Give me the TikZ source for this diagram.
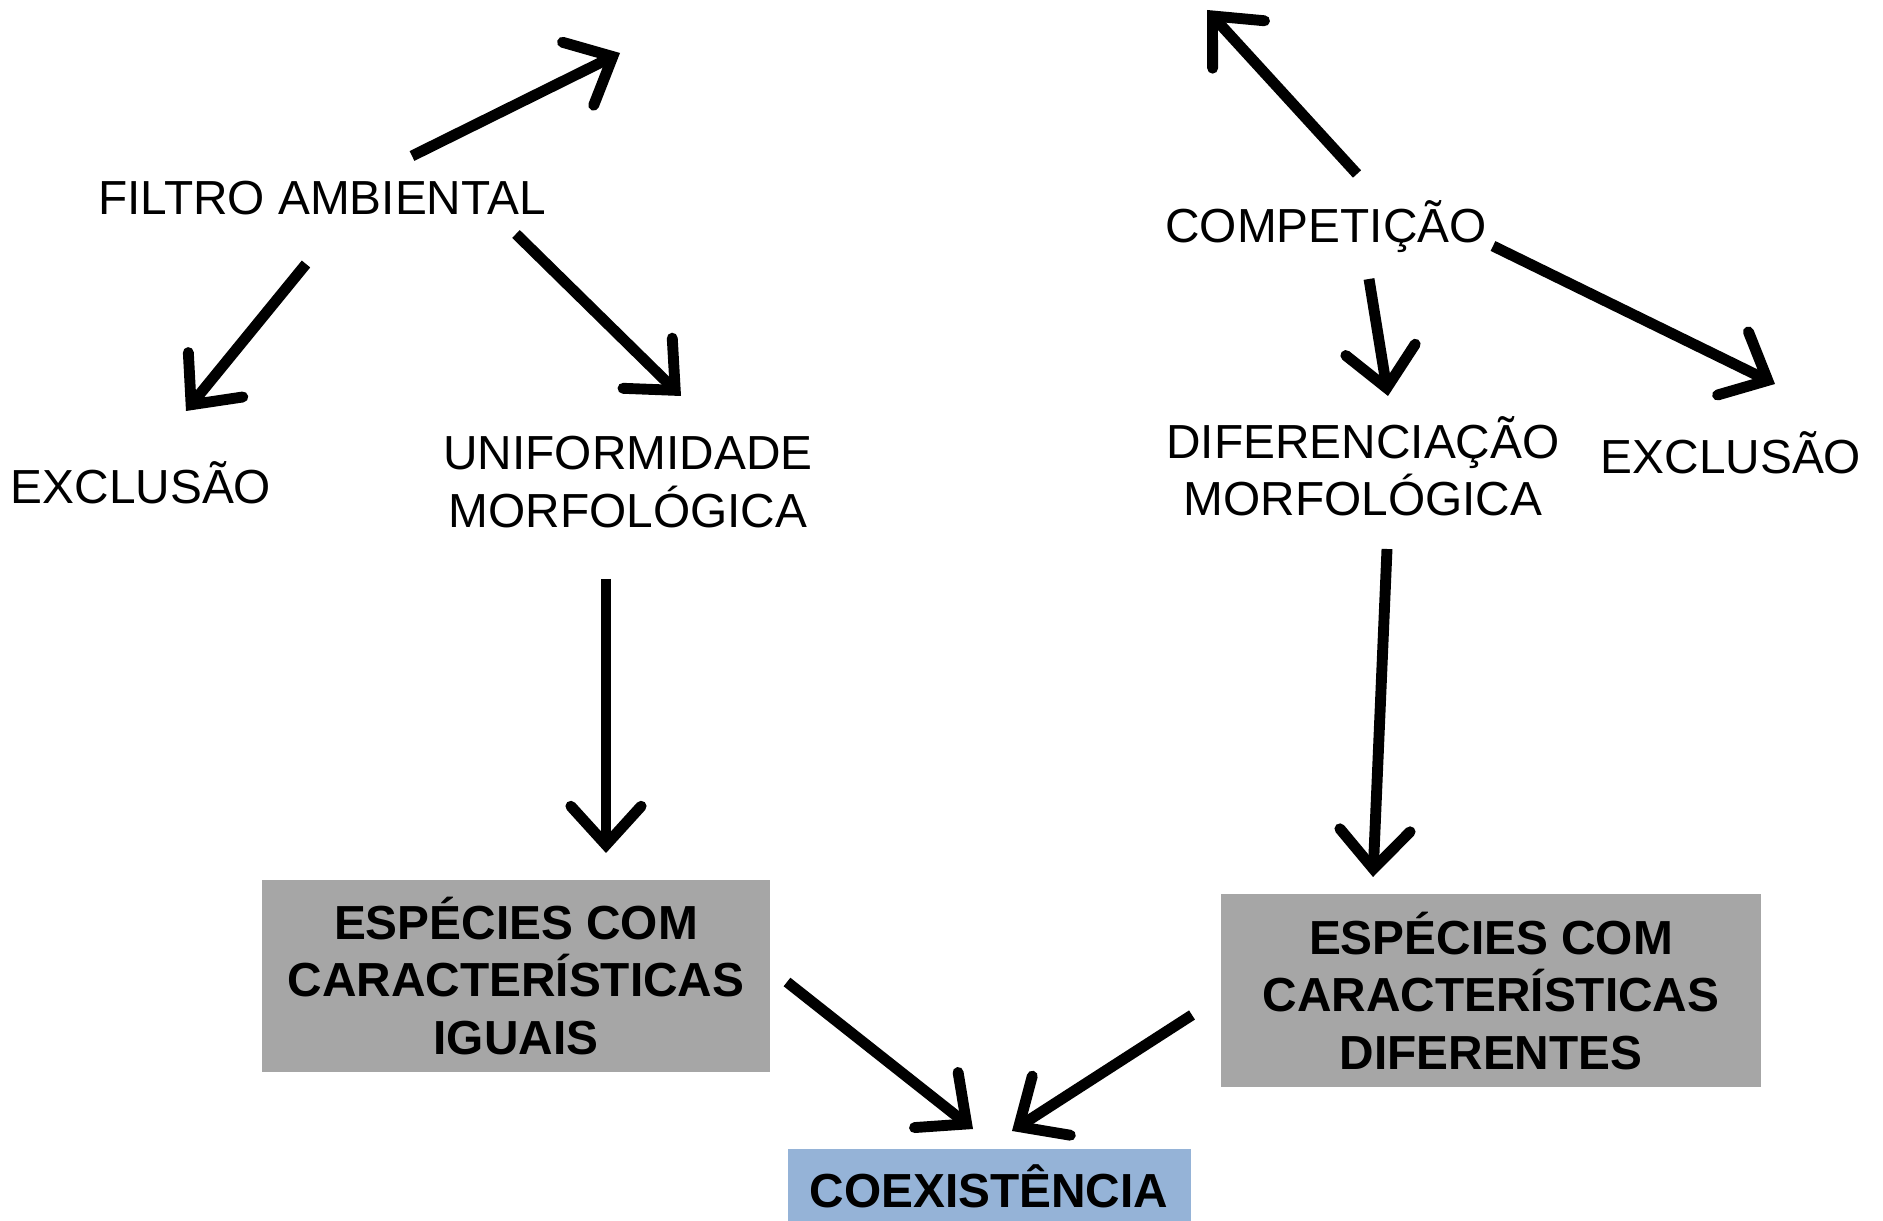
\documentclass[tikz,border=0pt]{standalone}
\usepackage{fontspec}
\setmainfont{Liberation Sans}
\usetikzlibrary{arrows.meta}
\definecolor{boxgray}{HTML}{A6A6A6}
\definecolor{boxblue}{HTML}{95B3D7}
\tikzset{
  lbl/.style={inner sep=0pt, align=center, font=\fontsize{13.6pt}{16.3pt}\selectfont},
  greybox/.style={fill=boxgray, inner sep=0pt, align=center, font=\fontsize{13.6pt}{16.3pt}\selectfont\bfseries},
  bluebox/.style={fill=boxblue, inner sep=0pt, align=center, font=\fontsize{13.6pt}{16.3pt}\selectfont\bfseries},
  conn/.style={line width=3.1pt, -{Straight Barb[length=11pt, width=20pt, line cap=round, line join=miter]}}
}
\begin{document}
\begin{tikzpicture}[x=0.1mm, y=-0.1mm]
\useasboundingbox (0,0) rectangle (1883,1221);
% text nodes
\node[lbl] (filtro) at (322,198) {FILTRO AMBIENTAL};
\node[lbl] (excl1) at (141,483) {EXCLUSÃO};
\node[lbl] (unif) at (628,482) {UNIFORMIDADE\\MORFOLÓGICA};
\node[lbl] (comp) at (1326,227) {COMPETIÇÃO};
\node[lbl] (dif) at (1363,466) {DIFERENCIAÇÃO\\MORFOLÓGICA};
\node[lbl] (excl2) at (1731,453) {EXCLUSÃO};
\node[greybox, minimum width=50.8mm, minimum height=19.2mm] (iguais) at (516,976) {ESPÉCIES COM\\CARACTERÍSTICAS\\IGUAIS};
\node[greybox, minimum width=54mm, minimum height=19.3mm] (difer) at (1491,991) {ESPÉCIES COM\\CARACTERÍSTICAS\\DIFERENTES};
\node[bluebox, minimum width=40.3mm, minimum height=7.4mm] (coex) at (989,1186) {COEXISTÊNCIA};
% connector end points
\coordinate (f1s) at (412,156); \coordinate (f1e) at (620,53);
\coordinate (f2s) at (306,264); \coordinate (f2e) at (186,411);
\coordinate (f3s) at (516,234); \coordinate (f3e) at (681,396);
\coordinate (u1s) at (606,579); \coordinate (u1e) at (606,853);
\coordinate (i1s) at (787,982); \coordinate (i1e) at (973,1129);
\coordinate (c1s) at (1357,174); \coordinate (c1e) at (1207,10);
\coordinate (c2s) at (1369,279); \coordinate (c2e) at (1388,396);
\coordinate (c3s) at (1493,246); \coordinate (c3e) at (1775,384);
\coordinate (d1s) at (1387,549); \coordinate (d1e) at (1373,877);
\coordinate (r1s) at (1192,1015); \coordinate (r1e) at (1012,1131);
% connectors
\draw[conn] (f1s) -- (f1e);
\draw[conn] (f2s) -- (f2e);
\draw[conn] (f3s) -- (f3e);
\draw[conn] (u1s) -- (u1e);
\draw[conn] (i1s) -- (i1e);
\draw[conn] (c1s) -- (c1e);
\draw[conn] (c2s) -- (c2e);
\draw[conn] (c3s) -- (c3e);
\draw[conn] (d1s) -- (d1e);
\draw[conn] (r1s) -- (r1e);
\end{tikzpicture}
\end{document}
